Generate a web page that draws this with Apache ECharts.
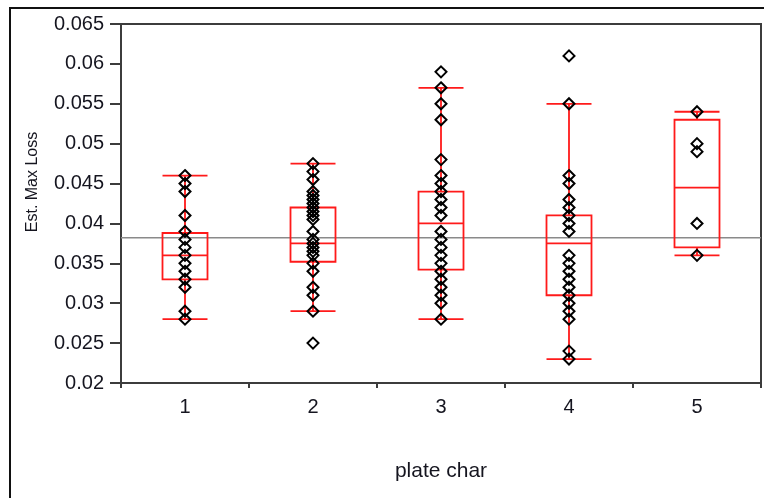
<!DOCTYPE html>
<html>
<head>
<meta charset="utf-8">
<script src="https://cdn.jsdelivr.net/npm/echarts@6/dist/echarts.min.js"></script>
<style>
  html, body { margin: 0; padding: 0; background: #fff; }
  #main { width: 764px; height: 498px; }
</style>
</head>
<body>
<div id="main"></div>
<script>
// categories on x axis
var plateChar = ['1', '2', '3', '4', '5'];

// box stats: min, q1, median, q3, max
var box1 = [0.028, 0.033, 0.036, 0.0388, 0.046];
var box2 = [0.029, 0.0352, 0.0375, 0.042, 0.0475];
var box3 = [0.028, 0.0342, 0.040, 0.044, 0.057];
var box4 = [0.023, 0.031, 0.0375, 0.041, 0.055];
var box5 = [0.036, 0.037, 0.0445, 0.053, 0.054];

// individual points per group
var pts1 = [0.046, 0.045, 0.044, 0.041, 0.039, 0.038, 0.037, 0.036, 0.035, 0.034, 0.033, 0.032, 0.029, 0.028];
var pts2 = [0.0475, 0.0465, 0.0455, 0.044, 0.0435, 0.043, 0.0425, 0.042, 0.0415, 0.041, 0.0405, 0.039, 0.038, 0.0375, 0.037, 0.0365, 0.036, 0.035, 0.034, 0.032, 0.031, 0.029, 0.025];
var pts3 = [0.059, 0.057, 0.055, 0.053, 0.048, 0.046, 0.045, 0.044, 0.043, 0.042, 0.041, 0.039, 0.038, 0.037, 0.036, 0.035, 0.034, 0.033, 0.032, 0.031, 0.030, 0.028];
var pts4 = [0.061, 0.055, 0.046, 0.045, 0.043, 0.042, 0.041, 0.040, 0.039, 0.036, 0.035, 0.034, 0.033, 0.032, 0.031, 0.030, 0.029, 0.028, 0.024, 0.023];
var pts5 = [0.054, 0.050, 0.049, 0.040, 0.036];

// overall mean line
var meanLoss = 0.0382;

// y axis ticks
var yMin = 0.02;
var yMax = 0.065;
var yStep = 0.005;

var boxes = [box1, box2, box3, box4, box5];
var groups = [pts1, pts2, pts3, pts4, pts5];

var points = [];
for (var i = 0; i < groups.length; i++) {
  for (var j = 0; j < groups[i].length; j++) {
    points.push([i, groups[i][j]]);
  }
}

var txt = '#15151f';
var axisCol = '#3c3c3c';
var fnt = 'Liberation Sans';

var chart = echarts.init(document.getElementById('main'));
chart.setOption({
  animation: false,
  grid: {
    left: 121, top: 24, right: 3, bottom: 115,
    show: true,
    borderColor: axisCol,
    borderWidth: 2
  },
  graphic: [{
    type: 'rect',
    shape: { x: 10, y: 8, width: 900, height: 700 },
    style: { fill: 'none', stroke: '#111', lineWidth: 2 },
    silent: true
  }, {
    type: 'text',
    x: 33, y: 182,
    rotation: Math.PI / 2,
    style: {
      text: 'Est. Max Loss',
      fill: txt,
      font: '16px "Liberation Sans", Arial, sans-serif',
      textAlign: 'center',
      textVerticalAlign: 'middle'
    }
  }],
  xAxis: [{
    type: 'category',
    data: plateChar,
    name: 'plate char',
    nameLocation: 'middle',
    nameGap: 78,
    nameTextStyle: { color: txt, fontSize: 21, fontFamily: fnt },
    axisLine: { lineStyle: { color: axisCol, width: 2 } },
    axisTick: { show: true, length: 5, lineStyle: { color: axisCol, width: 2 } },
    axisLabel: { color: txt, fontSize: 20, fontFamily: fnt, margin: 14 },
    splitLine: { show: false }
  }, {
    // hidden helper axis so the mean line spans the whole plot
    type: 'value',
    min: 0,
    max: 1,
    show: false
  }],
  yAxis: {
    type: 'value',
    min: yMin,
    max: yMax,
    interval: yStep,
    axisLine: { show: true, lineStyle: { color: axisCol, width: 2 } },
    axisTick: { show: true, length: 11, lineStyle: { color: axisCol, width: 2 } },
    axisLabel: { color: txt, fontSize: 20, fontFamily: fnt, margin: 17 },
    splitLine: { show: false }
  },
  series: [{
    type: 'line',
    xAxisIndex: 1,
    data: [[0, meanLoss], [1, meanLoss]],
    symbol: 'none',
    lineStyle: { color: '#8a8a8a', width: 1.5 },
    z: 1
  }, {
    type: 'boxplot',
    data: boxes,
    boxWidth: [45, 45],
    itemStyle: {
      color: 'rgba(0,0,0,0)',
      borderColor: '#ff1a1a',
      borderWidth: 1.8
    },
    z: 2
  }, {
    type: 'scatter',
    data: points,
    symbol: 'diamond',
    symbolSize: 11,
    itemStyle: {
      color: 'rgba(0,0,0,0)',
      borderColor: '#000',
      borderWidth: 2,
      opacity: 1
    },
    z: 3
  }]
});
</script>
</body>
</html>
